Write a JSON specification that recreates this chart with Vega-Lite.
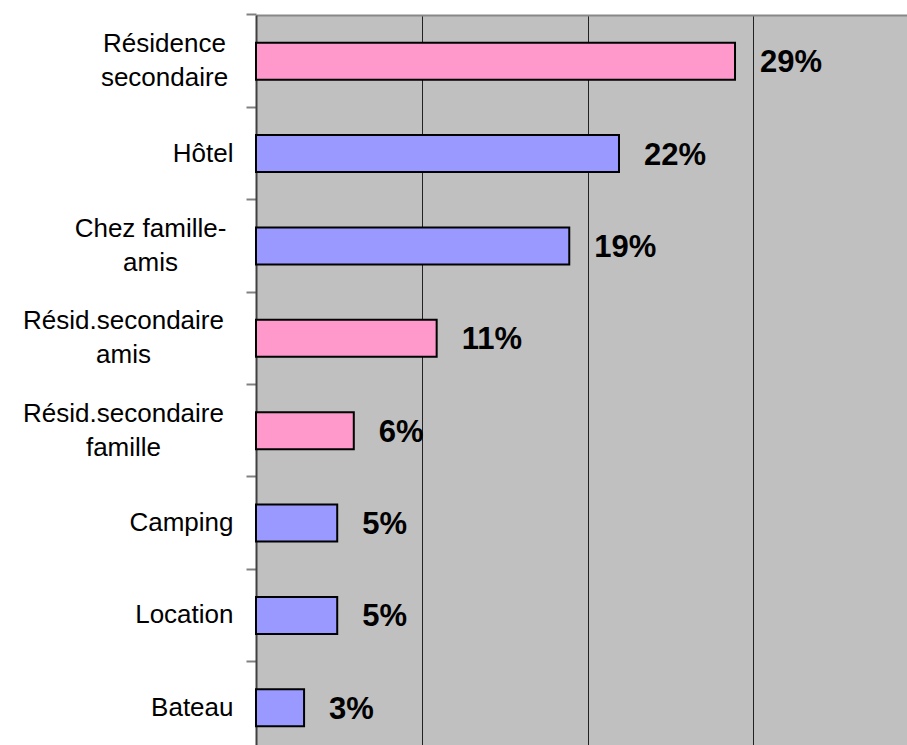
{
  "$schema": "https://vega.github.io/schema/vega-lite/v6.json",
  "width": 663,
  "height": 739,
  "autosize": {"type": "none"},
  "padding": {"left": 256, "top": 15, "right": 0, "bottom": 0},
  "background": "white",
  "config": {"view": {"fill": "#C0C0C0", "stroke": null}},
  "data": {
    "values": [
      {"lieu": "Résidence|secondaire", "part": 0.289, "type": "residence"},
      {"lieu": "Hôtel", "part": 0.219, "type": "autre"},
      {"lieu": "Chez famille-|amis", "part": 0.189, "type": "autre"},
      {"lieu": "Résid.secondaire|amis", "part": 0.109, "type": "residence"},
      {"lieu": "Résid.secondaire|famille", "part": 0.059, "type": "residence"},
      {"lieu": "Camping", "part": 0.049, "type": "autre"},
      {"lieu": "Location", "part": 0.049, "type": "autre"},
      {"lieu": "Bateau", "part": 0.029, "type": "autre"}
    ]
  },
  "encoding": {
    "y": {
      "field": "lieu",
      "type": "nominal",
      "sort": null,
      "scale": {"paddingInner": 0.6, "paddingOuter": 0.3},
      "axis": {
        "title": null,
        "orient": "left",
        "grid": false,
        "domainColor": "#404040",
        "domainWidth": 2,
        "ticks": true,
        "tickColor": "#808080",
        "tickSize": 10,
        "tickWidth": 2,
        "bandPosition": -0.75,
        "labelFont": "Liberation Sans",
        "labelFontSize": 26,
        "labelColor": "black",
        "labelLineHeight": 34,
        "labelLimit": 400,
        "labelBaseline": "middle",
        "labelExpr": "split(datum.label, '|')",
        "labelAlign": {"condition": {"test": "indexof(datum.value, '|') >= 0", "value": "center"}, "value": "right"},
        "labelOffset": {"condition": {"test": "indexof(datum.value, '|') >= 0", "value": -17}, "value": 0},
        "labelPadding": {
          "condition": [
            {"test": "datum.value === 'Résidence|secondaire'", "value": 82},
            {"test": "datum.value === 'Chez famille-|amis'", "value": 96},
            {"test": "indexof(datum.value, 'Résid.') === 0", "value": 123}
          ],
          "value": 13
        }
      }
    },
    "x": {
      "field": "part",
      "type": "quantitative",
      "scale": {"domain": [0, 0.4], "nice": false, "zero": true},
      "axis": {
        "title": null,
        "orient": "top",
        "labels": false,
        "ticks": false,
        "domainColor": "#888888",
        "domainWidth": 2,
        "grid": true,
        "values": [0.1, 0.2, 0.3],
        "gridColor": "#222222",
        "gridWidth": 1,
        "gridOpacity": 1
      }
    }
  },
  "layer": [
    {
      "mark": {"type": "bar", "stroke": "black", "strokeWidth": 2},
      "encoding": {
        "color": {
          "field": "type",
          "type": "nominal",
          "scale": {"domain": ["residence", "autre"], "range": ["#FF99CC", "#9999FF"]},
          "legend": null
        }
      }
    },
    {
      "mark": {"type": "text", "align": "left", "baseline": "middle", "dx": 25, "dy": 2, "font": "Liberation Sans", "fontSize": 31, "fontWeight": "bold", "color": "black"},
      "encoding": {"text": {"field": "part", "type": "quantitative", "format": ".0%"}}
    }
  ]
}
